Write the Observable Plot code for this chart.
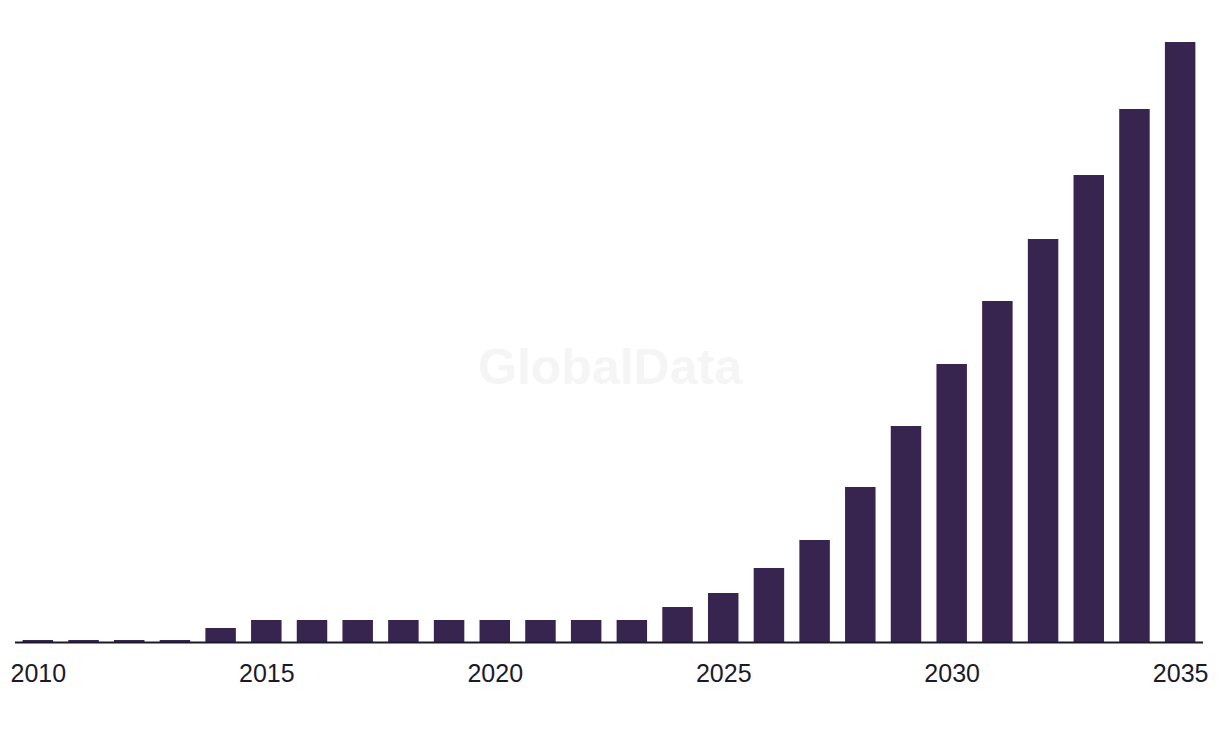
<!DOCTYPE html>
<html>
<head>
<meta charset="utf-8">
<script src="https://cdn.jsdelivr.net/npm/d3@7"></script>
<script src="https://cdn.jsdelivr.net/npm/@observablehq/plot@0.6"></script>
<style>
  html, body { margin: 0; padding: 0; background: #ffffff; overflow: hidden; }
  #chart { position: relative; width: 1220px; height: 738px; }
  #chart svg { display: block; }
  .watermark {
    position: absolute; left: 0; width: 1220px; top: 338px; text-align: center;
    font-family: "Liberation Sans", Arial, sans-serif; font-weight: bold; font-size: 50px;
    color: #f5f5f5; pointer-events: none;
  }
</style>
</head>
<body>
<div id="chart"></div>
<script>
const years = d3.range(2010, 2036);
const values = [0.2, 0.2, 0.2, 0.2, 1.4, 2.2, 2.2, 2.2, 2.2, 2.2, 2.2, 2.2, 2.2, 2.2,
                3.5, 4.9, 7.4, 10.2, 15.5, 21.6, 27.8, 34.1, 40.3, 46.7, 53.3, 60];
const tickYears = [2010, 2015, 2020, 2025, 2030, 2035];

const data = years.map((y, i) => ({year: y, value: values[i]}));

const chart = Plot.plot({
  width: 1220,
  height: 738,
  marginLeft: 15,
  marginRight: 17,
  marginTop: 42,
  marginBottom: 96,
  style: {fontFamily: "Liberation Sans, Arial, sans-serif", background: "transparent"},
  x: {type: "band", domain: years, paddingInner: 0.333, paddingOuter: 0.1667, round: false},
  y: {domain: [0, 60], axis: null},
  marks: [
    Plot.barY(data, {x: "year", y: "value", fill: "#37244f"}),
    Plot.ruleY([0], {stroke: "#1b1a2c", strokeWidth: 2}),
    Plot.axisX({
      tickSize: 0,
      tickPadding: 22,
      ticks: tickYears,
      tickFormat: d => String(d),
      fontSize: 25,
      fill: "#1b1a2c",
      label: null
    })
  ]
});

const wrap = document.getElementById("chart");
const wm = document.createElement("div");
wm.className = "watermark";
wm.textContent = "GlobalData";
wrap.appendChild(wm);
wrap.appendChild(chart);
chart.style.position = "relative";
</script>
</body>
</html>
